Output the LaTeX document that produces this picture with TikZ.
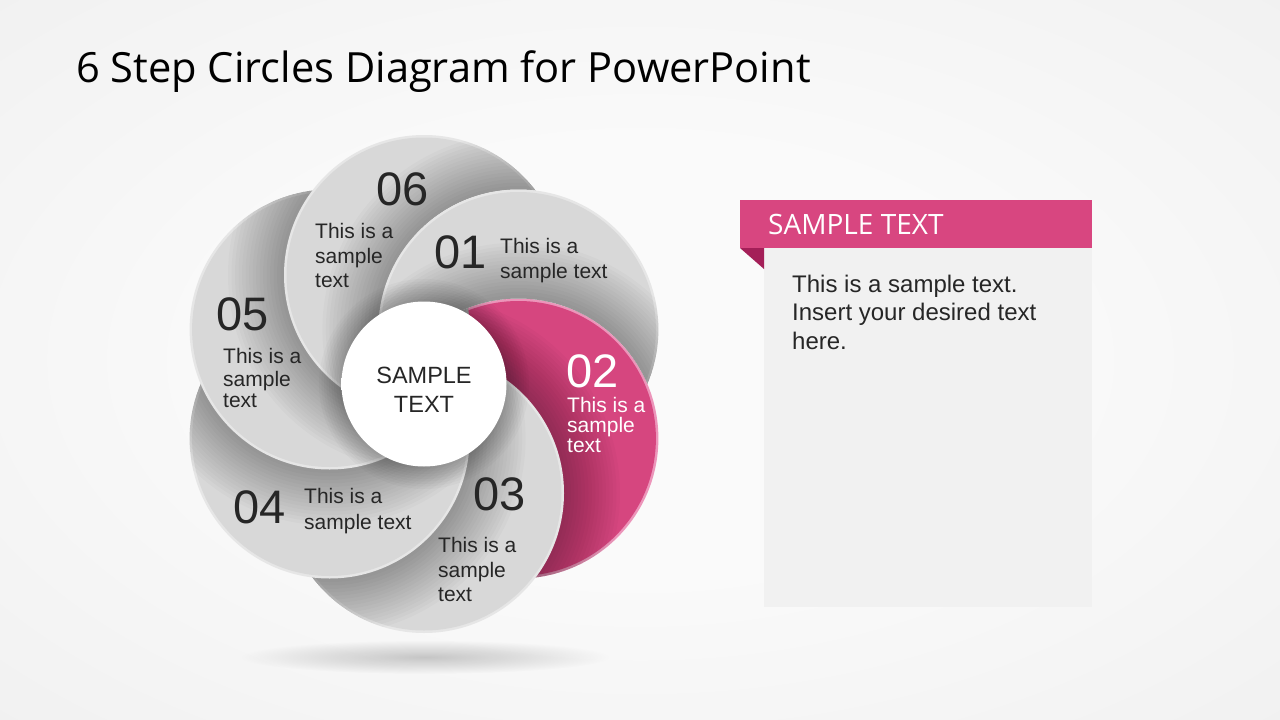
\documentclass[tikz,border=0pt]{standalone}
\usepackage{fontspec}
\setmainfont{Liberation Sans}
\newfontfamily\titlefont{Open Sans}
\usetikzlibrary{fadings}
\definecolor{bgA}{HTML}{FAFAFA}
\definecolor{bgB}{HTML}{E2E2E2}
\definecolor{grayfill}{HTML}{D8D8D8}
\definecolor{grayrim}{HTML}{E6E6E6}
\definecolor{pinkc}{HTML}{D6467F}
\definecolor{pinkrim}{HTML}{EC95BA}
\definecolor{banner}{HTML}{D84680}
\definecolor{fold}{HTML}{A41F58}
\definecolor{txt}{HTML}{262626}
\definecolor{panelc}{HTML}{F1F1F1}
\definecolor{ctrout}{HTML}{DEDEDE}
\pgfdeclareradialshading{bgshade}{\pgfpoint{0bp}{0bp}}{color(0bp)=(bgA); color(15bp)=(bgA); color(71bp)=(bgB)}
\pgfdeclareradialshading{ctrshade}{\pgfpoint{10bp}{10bp}}{color(0bp)=(white); color(38bp)=(white); color(62bp)=(ctrout)}
\tikzfading[name=softfade, inner color=transparent!0, outer color=transparent!100]
\newcommand{\mydisc}[3]{\fill[#2] (#1) circle (140pt); \fill[#3] (#1) circle (137.5pt);}
\newcommand{\myshadow}[1]{\foreach \k in {1,...,16}{\pgfmathsetmacro\rr{140+3.5*\k}\fill[black,opacity=0.02] (#1) circle (\rr pt);}}
\tikzset{
  lbl/.style={inner sep=0pt, anchor=base west, text=txt, text height=15pt, text depth=3pt, font=\fontsize{21}{25}\selectfont},
  wlbl/.style={lbl, text=white},
  num/.style={inner sep=0pt, anchor=base west, text=txt, text height=34pt, text depth=1pt, font=\fontsize{47}{50}\selectfont},
  ctr/.style={inner sep=0pt, anchor=base, text=txt, text height=17pt, text depth=2pt, font=\fontsize{23.5}{28}\selectfont},
  ptxt/.style={inner sep=0pt, anchor=base west, text=txt, text height=17pt, text depth=5pt, font=\fontsize{24}{28}\selectfont},
}
\begin{document}
\begin{tikzpicture}[x=1pt,y=-1pt]
\useasboundingbox (0,0) rectangle (1280,720);
\shade[shading=bgshade] (0,0) rectangle (1280,720);
% title
\node[inner sep=0pt, anchor=base west, font=\titlefont\fontsize{41.6}{48}\selectfont, text=black] (title) at (76,82) {6 Step Circles Diagram for PowerPoint};
% coordinates
\coordinate (C) at (424,384);
\coordinate (c1) at (518.4,329.5);
\coordinate (c2) at (518.4,438.5);
\coordinate (c3) at (424,493);
\coordinate (c4) at (329.6,438.5);
\coordinate (c5) at (329.6,329.5);
\coordinate (c6) at (424,275);
% floor shadow
\fill[black,opacity=0.2,path fading=softfade] (425,657) ellipse (185pt and 17pt);
% circles
\begin{scope}\mydisc{c2}{pinkrim}{pinkc}\clip (c2) circle (140pt);\myshadow{c3}\end{scope}
\begin{scope}\mydisc{c3}{grayrim}{grayfill}\clip (c3) circle (140pt);\myshadow{c4}\end{scope}
\begin{scope}\mydisc{c4}{grayrim}{grayfill}\clip (c4) circle (140pt);\myshadow{c5}\end{scope}
\begin{scope}\mydisc{c5}{grayrim}{grayfill}\clip (c5) circle (140pt);\myshadow{c6}\end{scope}
\begin{scope}[even odd rule]\clip (0,0) rectangle (1280,720) (c1) circle (140pt);
  \mydisc{c6}{grayrim}{grayfill}\clip (c6) circle (140pt);\myshadow{c1}\end{scope}
\begin{scope}[even odd rule]\clip (0,0) rectangle (1280,720) (c2) circle (140pt);
  \mydisc{c1}{grayrim}{grayfill}\clip (c1) circle (140pt);\myshadow{c2}\end{scope}
% centre shadow and centre circle
\foreach \k in {1,...,9}{\pgfmathsetmacro\rr{82.5+2.5*\k}\fill[black,opacity=0.022] (C) circle (\rr pt);}
\shade[shading=ctrshade] (C) circle (82.5pt);
\node[ctr] (ct1) at (424,383) {SAMPLE};
\node[ctr] (ct2) at (424,412) {TEXT};
% step texts
\node[num] (n1) at (434,268) {01};
\node[lbl] (t1a) at (500,253) {This is a};
\node[lbl] (t1b) at (500,278) {sample text};
\node[num, text=white] (n2) at (566,387) {02};
\node[wlbl, text height=14pt, text depth=3pt] (t2a) at (567,412) {This is a};
\node[wlbl, text height=14pt, text depth=3pt] (t2b) at (567,432) {sample};
\node[wlbl, text height=14pt, text depth=3pt] (t2c) at (567,452) {text};
\node[num] (n3) at (473,510) {03};
\node[lbl] (t3a) at (438,552) {This is a};
\node[lbl] (t3b) at (438,577) {sample};
\node[lbl] (t3c) at (438,601) {text};
\node[num] (n4) at (233,523) {04};
\node[lbl] (t4a) at (304,503) {This is a};
\node[lbl] (t4b) at (304,529) {sample text};
\node[num] (n5) at (216,330) {05};
\node[lbl] (t5a) at (223,363) {This is a};
\node[lbl] (t5b) at (223,386) {sample};
\node[lbl] (t5c) at (223,407) {text};
\node[num] (n6) at (376,205) {06};
\node[lbl] (t6a) at (315,238) {This is a};
\node[lbl] (t6b) at (315,263) {sample};
\node[lbl] (t6c) at (315,287) {text};
% text panel
\fill[panelc] (764,248) rectangle (1092,607);
\fill[banner] (740,200) rectangle (1092,248);
\fill[fold] (740,248) -- (764,248) -- (764,269) -- cycle;
\node[inner sep=0pt, anchor=base west, font=\titlefont\fontsize{28}{32}\selectfont, text=white] (bt) at (768,234) {SAMPLE TEXT};
\node[ptxt] (p1) at (792,292) {This is a sample text.};
\node[ptxt] (p2) at (792,320.5) {Insert your desired text};
\node[ptxt] (p3) at (792,349) {here.};
\end{tikzpicture}
\end{document}
